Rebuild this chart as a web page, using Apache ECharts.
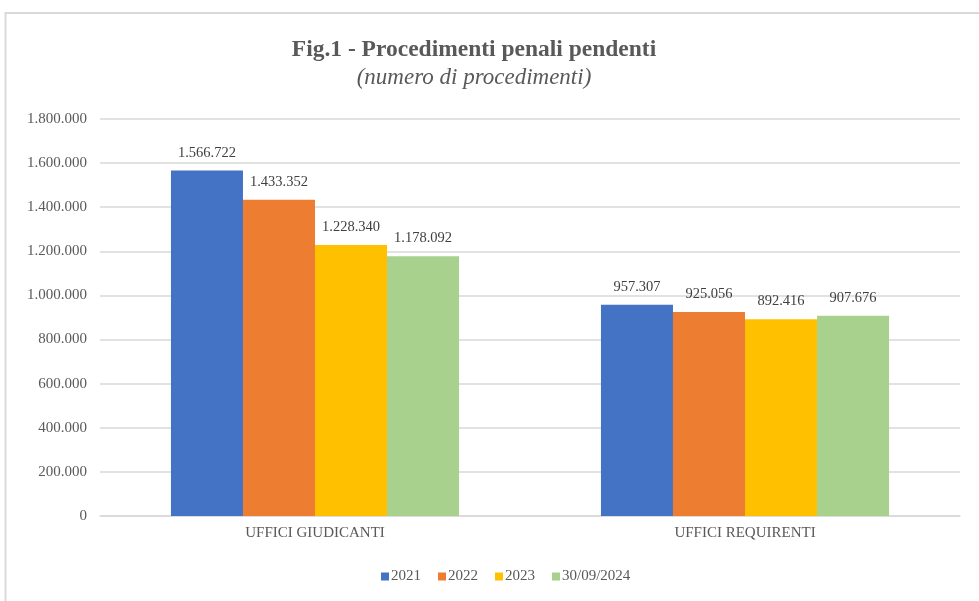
<!DOCTYPE html>
<html lang="it">
<head>
    <meta charset="UTF-8">
    <title>Procedimenti penali pendenti</title>
    <style>
        html, body { margin: 0; padding: 0; background: #fff; }
        #chart { width: 979px; height: 601px; }
    </style>
</head>
<body>
    <div id="chart"></div>
    <script src="https://cdn.jsdelivr.net/npm/echarts@6/dist/echarts.min.js"></script>
    <script>
        // dati
        const categories = ['UFFICI GIUDICANTI', 'UFFICI REQUIRENTI'];
        const seriesNames = ['2021', '2022', '2023', '30/09/2024'];
        const values2021 = [1566722, 957307];
        const values2022 = [1433352, 925056];
        const values2023 = [1228340, 892416];
        const values2024 = [1178092, 907676];
        const colors = ['#4472c4', '#ed7d31', '#ffc000', '#a9d18e'];

        const font = '"Liberation Serif", "DejaVu Serif", serif';

        // formato italiano con punto come separatore delle migliaia
        function fmt(v) {
            return String(v).replace(/\B(?=(\d{3})+(?!\d))/g, '.');
        }

        const chart = echarts.init(document.getElementById('chart'));
        const allValues = [values2021, values2022, values2023, values2024];

        chart.setOption({
            animation: false,
            color: colors,
            title: {
                text: 'Fig.1 - Procedimenti penali pendenti',
                subtext: '(numero di procedimenti)',
                left: 469,
                top: 33,
                textAlign: 'center',
                itemGap: 4,
                textStyle: { fontFamily: font, fontSize: 23.5, fontWeight: 'bold', color: '#595959' },
                subtextStyle: { fontFamily: font, fontSize: 23, fontStyle: 'italic', color: '#595959' }
            },
            legend: {
                bottom: 12,
                left: 376,
                itemWidth: 8,
                itemHeight: 8,
                itemGap: 17,
                icon: 'rect',
                textStyle: { fontFamily: font, fontSize: 15, color: '#595959', padding: [0, 0, 0, -3] },
                data: seriesNames
            },
            grid: { left: 100, right: 19, top: 119, bottom: 85, containLabel: false },
            xAxis: {
                type: 'category',
                data: categories,
                axisLine: { lineStyle: { color: '#d9d9d9', width: 1.5 } },
                axisTick: { show: false },
                axisLabel: { fontFamily: font, fontSize: 15, color: '#595959', margin: 10 }
            },
            yAxis: {
                type: 'value',
                min: 0,
                max: 1800000,
                interval: 200000,
                axisLine: { show: false },
                axisTick: { show: false },
                splitLine: { lineStyle: { color: '#d9d9d9', width: 1.5 } },
                axisLabel: { fontFamily: font, fontSize: 15, color: '#595959', margin: 13, formatter: fmt }
            },
            graphic: [{
                type: 'rect',
                shape: { x: 5.5, y: 13, width: 1200, height: 800 },
                style: { fill: 'none', stroke: '#d9d9d9', lineWidth: 2 },
                silent: true
            }],
            series: seriesNames.map((name, i) => ({
                name: name,
                type: 'bar',
                data: allValues[i],
                barGap: '0%',
                barCategoryGap: '33%',
                label: {
                    show: true,
                    position: 'top',
                    distance: 10,
                    fontFamily: font,
                    fontSize: 14.5,
                    color: '#404040',
                    formatter: p => fmt(p.value)
                }
            }))
        });
    </script>
</body>
</html>
